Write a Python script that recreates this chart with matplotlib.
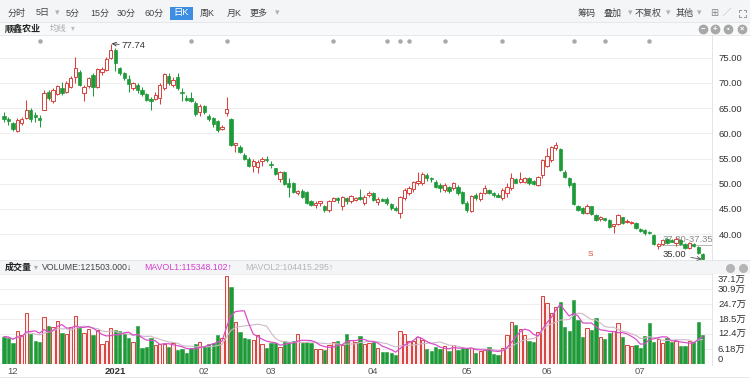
import numpy as np
import pandas as pd
import matplotlib
matplotlib.use('Agg')
import matplotlib.pyplot as plt

plt.rcParams['font.family'] = ['Liberation Sans', 'Noto Sans CJK SC', 'DejaVu Sans']

# daily candles, 2020-11-27 .. 2021-07-21 (0 = first bar)
opens = [63.4, 62.9, 62.0, 60.5, 62.0, 63.0, 64.6, 63.6, 63.0, 64.7,
         68.1, 66.3, 67.8, 68.9, 68.2, 69.2, 71.1, 72.2, 67.9, 69.4,
         71.5, 69.1, 72.2, 72.5, 75.0, 76.4, 72.9, 71.9, 70.7, 68.9,
         69.6, 68.6, 67.7, 66.7, 66.7, 66.9, 68.9, 71.4, 69.6, 71.2,
         68.2, 67.05, 67.05, 65.9, 64.3, 65.4, 63.4, 63.0, 62.5, 60.9,
         63.95, 62.8, 57.7, 57.35, 55.7, 55.0, 53.5, 53.4, 54.6, 55.0,
         54.0, 53.05, 50.9, 52.4, 50.1, 50.1, 48.2, 48.6, 48.4, 46.5,
         45.8, 46.1, 45.5, 44.8, 46.6, 47.1, 45.5, 47.1, 46.5, 46.8,
         47.3, 46.25, 47.8, 48.1, 46.4, 47.0, 46.9, 46.0, 45.1, 44.3,
         47.1, 48.2, 48.9, 50.1, 50.1, 51.7, 51.1, 50.4, 49.75, 48.8,
         49.4, 49.1, 49.4, 48.4, 46.1, 44.7, 47.8, 46.9, 48.2, 48.8,
         48.1, 47.8, 47.1, 48.1, 49.1, 50.9, 50.4, 50.4, 51.1, 50.5,
         49.75, 51.7, 53.5, 54.7, 57.0, 56.8, 52.4, 51.1, 50.1, 45.6,
         45.1, 44.3, 45.5, 43.8, 42.95, 43.15, 42.8, 41.6, 42.0, 43.35,
         42.4, 42.3, 42.2, 40.97, 40.8, 40.5, 39.85, 37.7, 38.1, 39.0,
         38.9, 38.2, 38.9, 38.1, 37.2, 38.0, 37.4, 36.1]
highs = [64.3, 63.2, 62.2, 63.0, 63.2, 66.6, 65.1, 64.3, 63.6, 68.6,
         68.5, 69.0, 69.6, 70.2, 70.3, 71.3, 75.2, 72.5, 69.6, 71.2,
         71.9, 72.9, 73.2, 75.1, 77.74, 76.8, 73.2, 72.2, 71.5, 70.2,
         69.9, 69.2, 67.9, 67.2, 68.2, 70.0, 72.0, 71.9, 71.2, 71.9,
         68.9, 67.6, 68.2, 66.3, 65.8, 65.6, 63.9, 63.2, 62.6, 61.6,
         67.25, 63.0, 58.0, 57.7, 56.0, 55.2, 55.0, 54.7, 55.2, 55.4,
         54.6, 53.2, 52.5, 52.6, 51.1, 50.4, 48.8, 48.9, 48.6, 46.8,
         46.5, 46.6, 45.8, 46.8, 47.4, 47.4, 47.6, 47.4, 47.8, 47.4,
         48.9, 47.8, 48.6, 48.4, 47.3, 47.1, 47.3, 46.2, 45.5, 47.6,
         49.1, 49.6, 50.6, 52.4, 52.4, 52.1, 51.3, 50.7, 50.1, 50.2,
         49.6, 50.4, 49.75, 48.6, 46.5, 47.8, 48.2, 48.4, 49.75, 48.9,
         48.4, 48.1, 49.1, 50.1, 52.1, 51.1, 52.4, 51.3, 51.3, 50.7,
         51.5, 55.0, 57.0, 57.5, 58.3, 57.1, 52.7, 51.3, 50.4, 45.8,
         45.3, 46.0, 45.6, 44.0, 43.6, 43.3, 43.0, 41.95, 44.1, 43.5,
         42.95, 42.7, 42.4, 41.2, 41.0, 40.7, 40.1, 38.2, 39.1, 39.2,
         39.1, 39.5, 39.1, 38.3, 38.4, 38.2, 37.6, 36.3]
lows = [62.3, 61.6, 60.5, 60.3, 61.6, 62.8, 62.3, 62.3, 61.3, 64.6,
        66.5, 66.0, 67.6, 67.6, 67.9, 69.0, 69.9, 69.4, 66.3, 68.9,
        67.3, 68.9, 71.5, 72.3, 74.8, 72.4, 71.5, 70.5, 68.2, 68.6,
        67.9, 67.4, 66.3, 64.6, 66.5, 65.8, 68.6, 69.6, 69.2, 68.6,
        66.3, 66.3, 66.1, 63.4, 63.4, 63.9, 62.5, 61.3, 60.3, 60.65,
        63.5, 57.5, 56.2, 56.0, 54.8, 53.4, 52.4, 52.2, 53.5, 54.4,
        53.2, 51.7, 50.4, 49.7, 47.4, 48.1, 47.8, 47.2, 45.9, 45.5,
        45.1, 45.6, 44.5, 44.5, 46.5, 46.1, 44.8, 46.0, 46.1, 46.5,
        46.8, 45.8, 47.4, 46.5, 45.8, 46.5, 45.8, 44.8, 44.7, 43.2,
        46.8, 47.8, 48.4, 49.7, 49.7, 50.6, 50.4, 49.1, 48.4, 48.4,
        48.1, 48.8, 47.8, 45.9, 44.5, 44.4, 46.8, 46.6, 48.0, 48.0,
        47.4, 47.3, 46.8, 47.4, 48.8, 50.1, 50.1, 50.1, 49.75, 49.75,
        49.55, 51.1, 53.4, 54.4, 56.7, 52.5, 51.1, 49.4, 45.8, 44.6,
        44.1, 44.0, 43.8, 42.6, 42.7, 42.6, 41.3, 40.3, 41.8, 42.0,
        42.2, 42.0, 41.0, 40.5, 39.9, 40.0, 37.9, 37.0, 37.9, 38.1,
        38.4, 37.7, 37.9, 37.0, 37.0, 37.4, 36.1, 35.0]
closes = [62.8, 62.5, 60.8, 62.7, 62.8, 64.7, 62.8, 63.2, 62.6, 67.9,
          66.9, 68.6, 69.4, 67.9, 69.9, 70.9, 72.9, 69.6, 69.1, 70.9,
          69.2, 72.7, 72.7, 74.8, 76.5, 74.0, 71.9, 70.9, 69.8, 69.9,
          68.6, 67.8, 66.6, 66.3, 67.6, 69.6, 71.7, 69.9, 70.5, 68.9,
          67.9, 66.6, 66.3, 63.9, 65.4, 64.3, 62.8, 61.8, 60.7, 61.3,
          64.9, 57.7, 58.0, 56.35, 55.0, 53.6, 54.6, 54.4, 55.0, 54.7,
          53.7, 51.9, 52.3, 49.9, 49.3, 48.4, 48.6, 47.4, 46.1, 45.8,
          46.1, 46.5, 44.8, 46.5, 47.1, 46.8, 47.3, 46.5, 47.6, 47.1,
          46.9, 47.4, 48.2, 46.8, 47.0, 46.65, 46.1, 45.1, 44.9, 47.3,
          48.8, 49.1, 50.3, 50.5, 51.9, 51.1, 50.9, 49.4, 49.1, 49.75,
          48.6, 50.1, 48.1, 46.1, 44.8, 47.6, 47.1, 48.2, 49.1, 48.1,
          47.8, 47.4, 48.8, 49.4, 51.1, 50.2, 50.9, 51.1, 50.1, 49.95,
          51.3, 54.7, 55.4, 57.3, 57.7, 52.7, 51.4, 49.75, 46.0, 44.8,
          44.3, 45.6, 44.1, 42.8, 43.35, 42.8, 41.5, 41.95, 43.8, 42.3,
          42.7, 42.5, 41.2, 40.7, 40.2, 40.2, 38.1, 38.1, 38.9, 38.3,
          38.55, 39.1, 38.1, 37.2, 38.2, 37.6, 36.35, 35.05]
# volume in 万 (10k)
volumes = [11.3, 10.9, 8.5, 13.6, 12.0, 20.9, 12.2, 9.5, 8.9, 19.5,
           15.8, 15.4, 17.7, 12.9, 12.5, 15.4, 19.9, 15.0, 12.6, 14.4,
           12.0, 13.9, 8.1, 9.5, 15.0, 14.0, 13.6, 12.2, 10.9, 8.9,
           15.7, 6.7, 7.1, 10.6, 7.8, 8.2, 8.1, 7.1, 8.5, 5.8,
           6.2, 4.4, 6.5, 8.1, 8.9, 7.5, 8.1, 8.8, 12.0, 10.6,
           36.4, 31.6, 17.4, 13.3, 10.9, 10.3, 9.9, 12.0, 8.1, 6.7,
           8.5, 8.5, 7.1, 9.5, 8.9, 9.5, 12.2, 8.9, 9.2, 8.5,
           6.2, 6.2, 5.8, 7.8, 8.9, 9.5, 7.8, 12.2, 9.9, 8.9,
           11.5, 8.1, 8.5, 8.9,
           6.4, 4.8, 4.8, 4.7, 3.7, 13.6, 12.2, 9.5, 9.5, 11.3,
           9.9, 6.2, 5.4, 7.0, 6.2, 7.5, 5.4, 7.8, 5.8, 6.4,
           6.4, 6.7, 4.4, 5.4, 5.8, 7.1, 4.0, 3.7, 6.7, 12.0,
           17.4, 16.1, 14.4, 12.0, 9.5, 8.9, 13.3, 28.1, 25.0, 20.9,
           23.6, 25.4, 15.4, 13.6, 26.4, 18.1, 11.3, 14.7, 14.0, 19.1,
           11.3, 10.3, 12.6, 13.6, 16.8, 11.3, 7.8, 7.5, 7.8, 6.7,
           11.5, 17.0, 8.9, 10.3, 8.5, 10.9, 8.9, 9.5, 7.5, 7.5,
           9.5, 9.2, 17.2, 12.0]

month_pos = [2, 25, 45, 60, 83, 104, 122, 143]
month_labels = ['12', '2021', '02', '03', '04', '05', '06', '07']
event_pos = [8, 42, 50, 74, 86, 89, 91, 99, 112, 128, 135, 145]
price_ticks = [40, 45, 50, 55, 60, 65, 70, 75]
vol_ticks = [0, 6.18, 12.4, 18.5, 24.7, 30.9, 37.1]
vol_tick_labels = ['0', '6.18万', '12.4万', '18.5万', '24.7万', '30.9万', '37.1万']

RED = '#d9413c'
GREEN = '#1f9a38'
W, H = 750, 382

o = np.array(opens); h = np.array(highs); l = np.array(lows); c = np.array(closes)
v = np.array(volumes)
x = np.arange(len(o))
up = c >= o
ma5 = pd.Series(v).rolling(5, min_periods=1).mean()
ma10 = pd.Series(v).rolling(10, min_periods=1).mean()

fig = plt.figure(figsize=(W / 100, H / 100), dpi=100)

# background / chrome layer in pixel coords
bg = fig.add_axes([0, 0, 1, 1])
bg.set_xlim(0, W)
bg.set_ylim(H, 0)
bg.axis('off')
bg.add_patch(plt.Rectangle((0, 0), W, 22, color='#f4f5f7', lw=0))
bg.add_patch(plt.Rectangle((0, 22), W, 13, color='#f8f9fa', lw=0))
bg.plot([0, W], [22, 22], color='#e2e4e8', lw=0.6)
bg.plot([0, W], [35, 35], color='#e2e4e8', lw=0.6)
bg.add_patch(plt.Rectangle((0, 260), W, 14, color='#f4f5f7', lw=0))
bg.plot([0, W], [260, 260], color='#e2e4e8', lw=0.6)
bg.plot([712, 712], [35, 260], color='#e0e0e0', lw=0.6)
bg.plot([712, 712], [274, 365], color='#e0e0e0', lw=0.6)
bg.plot([0, W], [377, 377], color='#e2e4e8', lw=0.6)

tool = [(17, '分时'), (43, '5日'), (57, '▾'), (73, '5分'), (100, '15分'), (126, '30分'),
        (154, '60分'), (207, '周K'), (234, '月K'), (259, '更多'), (277, '▾'),
        (587, '筹码'), (612, '叠加'), (630, '▾'), (648, '不复权'), (668, '▾'),
        (685, '其他'), (699, '▾')]
for tx, s in tool:
    col = '#b0b0b0' if s == '▾' else '#444444'
    bg.text(tx, 13, s, ha='center', va='center', fontsize=6.5, color=col)
bg.add_patch(plt.Rectangle((170, 6.5), 23, 13, color='#3d8ee3', lw=0))
bg.text(181.5, 13, '日K', ha='center', va='center', fontsize=6.7, color='white')
bg.text(714, 13, '⊞', ha='center', va='center', fontsize=7, color='#888888')
bg.text(727, 13, '╱', ha='center', va='center', fontsize=6, color='#aaaaaa')
# full-screen icon: four corner marks
for sx in (-1, 1):
    for sy in (-1, 1):
        cx, cy = 742 + 3.5 * sx, 13 + 3.5 * sy
        bg.plot([cx, cx - 2 * sx], [cy, cy], color='#999999', lw=0.7)
        bg.plot([cx, cx], [cy, cy - 2 * sy], color='#999999', lw=0.7)

bg.text(5, 29, '顺鑫农业', ha='left', va='center', fontsize=6.5, color='#222222',
        fontweight='bold')
bg.text(50, 29, '均线', ha='left', va='center', fontsize=6, color='#aaaaaa')
bg.text(73, 29, '▾', ha='center', va='center', fontsize=5.5, color='#bbbbbb')
for ix, sym in zip([703, 715, 728, 742], ['−', '+', '•', '×']):
    bg.plot(ix, 29, 'o', ms=6, color='#a8a8a8')
    bg.text(ix, 29, sym, ha='center', va='center', fontsize=5.5, color='white',
            fontweight='bold')

# volume header
bg.text(5, 267.5, '成交量', ha='left', va='center', fontsize=6.5, color='#222222',
        fontweight='bold')
bg.text(36, 267.5, '▾', ha='center', va='center', fontsize=5.5, color='#aaaaaa')
bg.text(42, 267.5, 'VOLUME:121503.000↓', ha='left', va='center', fontsize=6.3,
        color='#444444')
bg.text(144, 267.5, 'MAVOL1:115348.102↑', ha='left', va='center', fontsize=6.3,
        color='#d63fcf')
bg.text(245, 267.5, 'MAVOL2:104415.295↑', ha='left', va='center', fontsize=6.3,
        color='#b5b5b5')
for ix in [730, 743]:
    bg.plot(ix, 267.5, 'o', ms=5.5, color='#b5b5b5')

# ---- price panel
ax = fig.add_axes([0, 1 - 260 / H, 712 / W, 224 / H])
ax.set_facecolor('none')
ax.set_xlim(-0.9, 159.1)
ax.set_ylim(34.9, 79.26)
for s in ax.spines.values():
    s.set_visible(False)
ax.set_yticks(price_ticks)
ax.yaxis.tick_right()
ax.set_yticklabels(['%.2f' % t for t in price_ticks])
ax.tick_params(axis='y', length=0, pad=5, labelsize=6.8, labelcolor='#333333')
ax.set_xticks([])
ax.grid(axis='y', color='#eeeeee', lw=0.7)
ax.set_axisbelow(True)

bw = 0.74
ax.vlines(x, l, h, colors=np.where(up, RED, GREEN), lw=0.75, zorder=3)
body = np.maximum(np.abs(c - o), 0.12)
ax.bar(x[up], body[up], bottom=o[up], width=bw, facecolor='white',
       edgecolor=RED, lw=0.7, zorder=4)
ax.bar(x[~up], body[~up], bottom=c[~up], width=bw, facecolor=GREEN,
       edgecolor=GREEN, lw=0.5, zorder=4)

ax.scatter(event_pos, [0.978] * len(event_pos), s=5, color='#aaaaaa',
           transform=ax.get_xaxis_transform(), clip_on=False, zorder=5)

ax.annotate('77.74', xy=(24.2, 77.74), xytext=(26.5, 77.3), fontsize=6.8,
            color='#333333', va='center', ha='left',
            arrowprops=dict(arrowstyle='->', color='#333333', lw=0.6,
                            shrinkA=0, shrinkB=0))
ax.annotate('35.00', xy=(156.8, 35.05), xytext=(148.1, 35.95), fontsize=6.8,
            color='#333333', va='center', ha='left',
            arrowprops=dict(arrowstyle='->', color='#555555', lw=0.6,
                            shrinkA=1, shrinkB=0))
ax.text(147.9, 38.95, '37.80-37.35', fontsize=6.8, color='#888888', va='center',
        ha='left', zorder=2)
ax.plot([147.4, 159.1], [37.85, 37.85], color='#aaaaaa', lw=0.6, zorder=2)
ax.text(131.7, 35.9, 'S', fontsize=6, color='#e0453e', ha='center', va='center')

# ---- volume panel
av = fig.add_axes([0, 1 - 364 / H, 712 / W, 90 / H])
av.set_facecolor('none')
av.set_xlim(-0.9, 159.1)
av.set_ylim(0, 37.1)
for s in av.spines.values():
    s.set_visible(False)
av.set_xticks([])
av.set_yticks(vol_ticks[1:])
av.set_yticklabels([])
av.tick_params(axis='y', length=0)
av.grid(axis='y', color='#eeeeee', lw=0.7)
av.set_axisbelow(True)
av.bar(x[up], v[up], width=bw, facecolor='#fdeceb', edgecolor=RED, lw=0.7, zorder=3)
av.bar(x[~up], v[~up], width=bw, facecolor=GREEN, edgecolor=GREEN, lw=0.4, zorder=3)
av.plot(x, ma10, color='#cfb8c8', lw=0.8, zorder=4)
av.plot(x, ma5, color='#d94fcb', lw=0.9, zorder=5)

# right-hand volume labels
for t, lab in zip(vol_ticks, vol_tick_labels):
    yy = 364 - t * 15 / 6.18
    if t == 0:
        yy = 359.5
    elif t == vol_ticks[-1]:
        yy = 279
    bg.text(718, yy, lab, ha='left', va='center', fontsize=6.8, color='#333333')

# month labels under volume
for p, lab in zip(month_pos, month_labels):
    bold = lab == '2021'
    bg.text(4 + 4.45 * p, 371, lab, ha='center', va='center', fontsize=6.8,
            color='#333333' if bold else '#555555',
            fontweight='bold' if bold else 'normal')

fig.savefig('out.png', dpi=100)
